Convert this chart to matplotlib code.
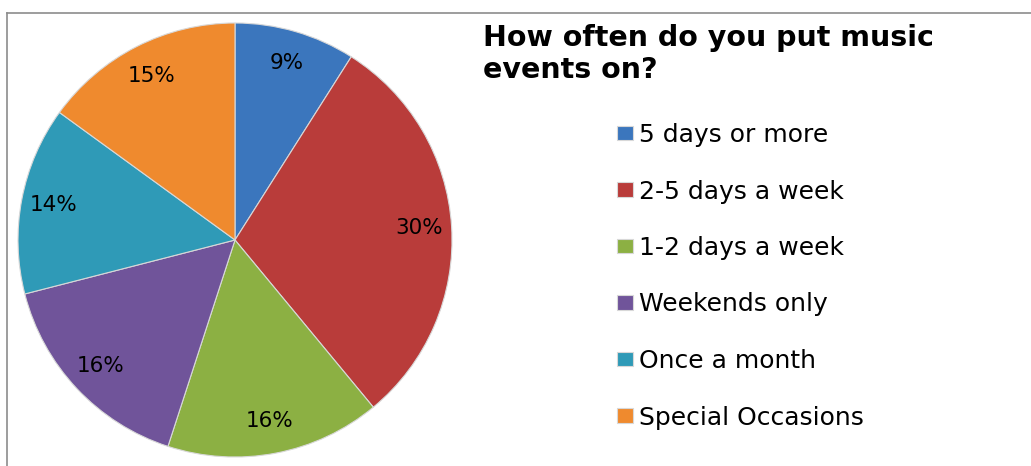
import matplotlib.pyplot as plt
from matplotlib.lines import Line2D

labels = ['5 days or more', '2-5 days a week', '1-2 days a week',
          'Weekends only', 'Once a month', 'Special Occasions']
shares = [9, 30, 16, 16, 14, 15]
colors = ['#3b76bd', '#b93c3a', '#8cb043', '#70549a', '#2f9ab7', '#ef8a2e']
title_lines = ['How often do you put music', 'events on?']

W, H = 1031, 466
fig = plt.figure(figsize=(W / 100, H / 100), dpi=100)

# pie placed by pixel centre / radius
cx, cy, r = 235, 240, 217
ax = fig.add_axes([(cx - r) / W, (H - cy - r) / H, 2 * r / W, 2 * r / H])
wedges, _, autotexts = ax.pie(shares, colors=colors, startangle=90, counterclock=False,
                              autopct='%d%%', pctdistance=0.85,
                              wedgeprops=dict(edgecolor='#d8d8d8', linewidth=0.8),
                              textprops=dict(fontsize=15.5, color='black'))
ax.set_xlim(-1, 1)
ax.set_ylim(-1, 1)
ax.set_aspect('equal')

# title, two lines
fig.text(483 / W, 1 - 46 / H, title_lines[0], fontsize=20.5, fontweight='bold', va='baseline')
fig.text(483 / W, 1 - 78 / H, title_lines[1], fontsize=20.5, fontweight='bold', va='baseline')

leg = fig.legend(wedges, labels, loc='upper left', bbox_to_anchor=(617 / W, 1 - 123 / H),
                 frameon=False, fontsize=18, handlelength=0.64, handleheight=0.52,
                 handletextpad=0.24, labelspacing=1.30, borderpad=0, borderaxespad=0)

# chart frame: top and left edges only
fig.add_artist(Line2D([6.5 / W, 1], [1 - 12.5 / H, 1 - 12.5 / H], color='#8c8c8c', lw=1.2))
fig.add_artist(Line2D([6.5 / W, 6.5 / W], [0, 1 - 12.5 / H], color='#8c8c8c', lw=1.2))

fig.savefig('out.png', dpi=100)
